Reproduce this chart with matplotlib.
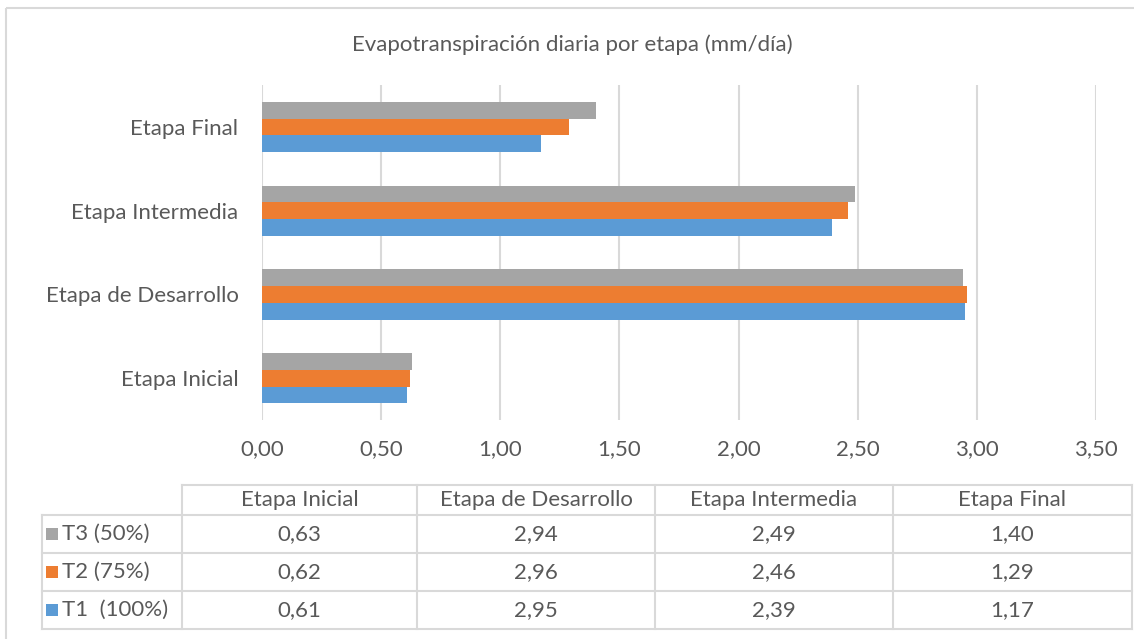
import matplotlib
matplotlib.use("Agg")
import matplotlib.pyplot as plt
from matplotlib.patches import Rectangle
import numpy as np

plt.rcParams['font.family'] = ['Lato', 'DejaVu Sans']

# Data
stages = ["Etapa Inicial", "Etapa de Desarrollo", "Etapa Intermedia", "Etapa Final"]
series = ["T1  (100%)", "T2 (75%)", "T3 (50%)"]
t1 = [0.61, 2.95, 2.39, 1.17]
t2 = [0.62, 2.96, 2.46, 1.29]
t3 = [0.63, 2.94, 2.49, 1.40]
x_ticks = [0.0, 0.5, 1.0, 1.5, 2.0, 2.5, 3.0, 3.5]
title = "Evapotranspiración diaria por etapa (mm/día)"

colors = ["#5B9BD5", "#ED7D31", "#A5A5A5"]
text_col = "#595959"
grid_col = "#D9D9D9"
fs = 16

W, H = 1134, 639
fig = plt.figure(figsize=(W / 100, H / 100), dpi=100)

def fx(px):
    return px / W

def fy(py):
    return 1 - py / H

# Bar chart
ax = fig.add_axes([fx(262), fy(420), fx(1096) - fx(262), fy(85) - fy(420)])
y = np.arange(len(stages))
bh = 0.2
values = [t1, t2, t3]
for i, (vals, c) in enumerate(zip(values, colors)):
    ax.barh(y + (i - 1) * bh, vals, height=bh, color=c, edgecolor="none", zorder=3)

ax.set_xlim(0, 3.5)
ax.set_ylim(-0.5, len(stages) - 0.5)
ax.set_xticks(x_ticks)
ax.set_xticklabels([f"{v:.2f}".replace(".", ",") for v in x_ticks])
ax.set_yticks(y)
ax.set_yticklabels(stages)
ax.tick_params(axis="both", length=0, labelsize=fs, labelcolor=text_col)
ax.tick_params(axis="x", pad=14)
ax.tick_params(axis="y", pad=17)
ax.grid(axis="x", color=grid_col, linewidth=1.5, zorder=0)
for s in ax.spines.values():
    s.set_visible(False)

# Overlay for title, frame and data table (pixel coordinates)
ov = fig.add_axes([0, 0, 1, 1], zorder=-1)
ov.set_xlim(0, W)
ov.set_ylim(H, 0)
ov.axis("off")

ov.add_patch(Rectangle((6, 8), W + 20, H + 20, fill=False, edgecolor=grid_col, linewidth=1.5))
ov.text(572, 45, title, ha="center", va="center", fontsize=fs, color=text_col)

col_edges = [182, 417, 655, 893, 1132]
row_edges = [485, 515, 553, 591, 629]
tab_left = 42
line_kw = dict(color=grid_col, linewidth=1.5)

# Header row
ov.plot([col_edges[0], col_edges[-1]], [row_edges[0]] * 2, **line_kw)
for x in col_edges:
    ov.plot([x, x], [row_edges[0], row_edges[-1]], **line_kw)
ov.plot([tab_left, tab_left], [row_edges[1], row_edges[-1]], **line_kw)
for yy in row_edges[1:]:
    ov.plot([tab_left, col_edges[-1]], [yy, yy], **line_kw)

for j, st in enumerate(stages):
    cx = (col_edges[j] + col_edges[j + 1]) / 2
    ov.text(cx, (row_edges[0] + row_edges[1]) / 2, st, ha="center", va="center",
            fontsize=fs, color=text_col)

# Rows: T3, T2, T1 from top
for r, k in enumerate([2, 1, 0]):
    cy = (row_edges[r + 1] + row_edges[r + 2]) / 2
    ov.add_patch(Rectangle((46, cy - 6), 12, 12, facecolor=colors[k], edgecolor="none"))
    ov.text(62, cy, series[k], ha="left", va="center", fontsize=fs, color=text_col)
    for j in range(len(stages)):
        cx = (col_edges[j] + col_edges[j + 1]) / 2
        ov.text(cx, cy, f"{values[k][j]:.2f}".replace(".", ","), ha="center", va="center",
                fontsize=fs, color=text_col)

fig.savefig("out.png", dpi=100)
